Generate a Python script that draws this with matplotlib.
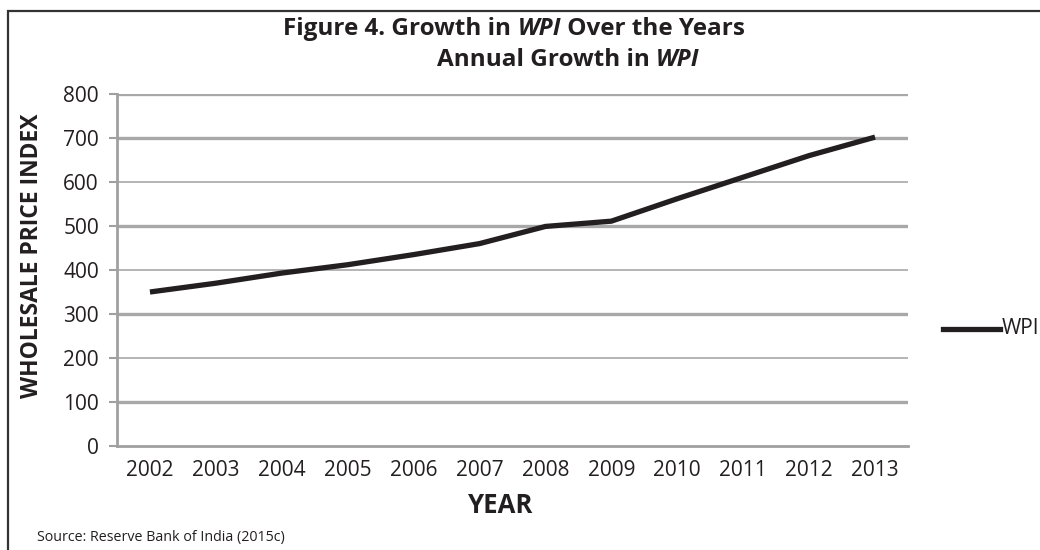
import matplotlib
matplotlib.use("Agg")
import matplotlib.pyplot as plt
from matplotlib.patches import Rectangle
from matplotlib.lines import Line2D

years = ["2002", "2003", "2004", "2005", "2006", "2007", "2008", "2009", "2010", "2011", "2012", "2013"]
wpi = [350, 370, 393, 412, 435, 460, 499, 511, 562, 611, 660, 702]
yticks = [0, 100, 200, 300, 400, 500, 600, 700, 800]
thick_grid = [100, 300, 500, 700, 800]

FONT = ['Open Sans', 'DejaVu Sans']
plt.rcParams['font.family'] = FONT
INK = '#231f20'

W, H = 1040, 550
fig = plt.figure(figsize=(W / 100, H / 100), dpi=100)
ax = fig.add_axes([117 / W, 1 - 446 / H, (908 - 117) / W, (446 - 94) / H])

x = list(range(len(years)))
ax.plot(x, wpi, color=INK, lw=3.8, solid_capstyle='butt', zorder=3, label='WPI')

ax.set_xlim(-0.5, len(years) - 0.5)
ax.set_ylim(0, 800)
ax.set_yticks(yticks)
ax.set_yticklabels([str(v) for v in yticks], fontsize=15, color=INK)
ax.set_xticks(x)
ax.set_xticklabels(years, fontsize=15, color=INK)
ax.tick_params(axis='x', length=0, pad=10)
ax.tick_params(axis='y', length=6, width=1.5, color='#a0a0a0', pad=7)

for v in yticks[1:]:
    if v in thick_grid:
        ax.axhline(v, color='#a8a8a8', lw=2.4, zorder=1)
    else:
        ax.axhline(v, color='#a0a0a0', lw=1.1, zorder=1)

for s in ['top', 'right']:
    ax.spines[s].set_visible(False)
for s in ['left', 'bottom']:
    ax.spines[s].set_color('#a0a0a0')
    ax.spines[s].set_linewidth(2)

ax.set_xlabel('YEAR', fontsize=18.5, fontweight='bold', color=INK)
ax.xaxis.set_label_coords((501 - 117) / 791, -0.13)
ax.set_ylabel('WHOLESALE PRICE INDEX', fontsize=16.5, fontweight='bold', color=INK)
ax.yaxis.set_label_coords((32 - 117) / 791, (446 - 256) / 352)
ax.yaxis.label.set_va('center')


def rich(parts, x_left, y_base, size):
    prev = None
    items = []
    for txt, style in parts:
        kw = dict(fontsize=size, fontweight='bold', color=INK, va='baseline', ha='left',
                  fontstyle=style, annotation_clip=False)
        if prev is None:
            prev = ax.annotate(txt, xy=(x_left, y_base), xycoords='figure fraction', **kw)
        else:
            prev = ax.annotate(txt, xy=(1, y_base), xycoords=(prev, 'figure fraction'), **kw)
        items.append(prev)
    return items


def rich_centered(parts, x_center, y_base, size):
    items = rich(parts, 0.0, y_base, size)
    fig.canvas.draw()
    r = fig.canvas.get_renderer()
    x0 = items[0].get_window_extent(r).x0
    x1 = items[-1].get_window_extent(r).x1
    width = (x1 - x0) / W
    items[0].xy = (x_center - width / 2, y_base)
    items[0].set_position((x_center - width / 2, y_base))
    return items


rich_centered([('Figure 4. Growth in ', 'normal'), ('WPI', 'italic'), (' Over the Years', 'normal')],
              514 / W, 1 - 35 / H, 17.5)
rich([('Annual Growth in ', 'normal'), ('WPI', 'italic')], 437 / W, 1 - 66 / H, 17.5)

fig.text(37 / W, 1 - 537 / H, 'Source: Reserve Bank of India (2015c)',
         ha='left', va='center', fontsize=10.3, color=INK)

# legend
fig.add_artist(Line2D([943 / W, 1000 / W], [1 - 329 / H, 1 - 329 / H], color=INK, lw=3.8,
                      transform=fig.transFigure))
fig.text(1002 / W, 1 - 329 / H, 'WPI', ha='left', va='center', fontsize=15, color=INK)

# border
fig.add_artist(Rectangle((8 / W, -0.1), 1.2, 1 - 11 / H + 0.1, transform=fig.transFigure,
                         fill=False, edgecolor='#333333', lw=1.6))

fig.savefig('out.png', dpi=100)
